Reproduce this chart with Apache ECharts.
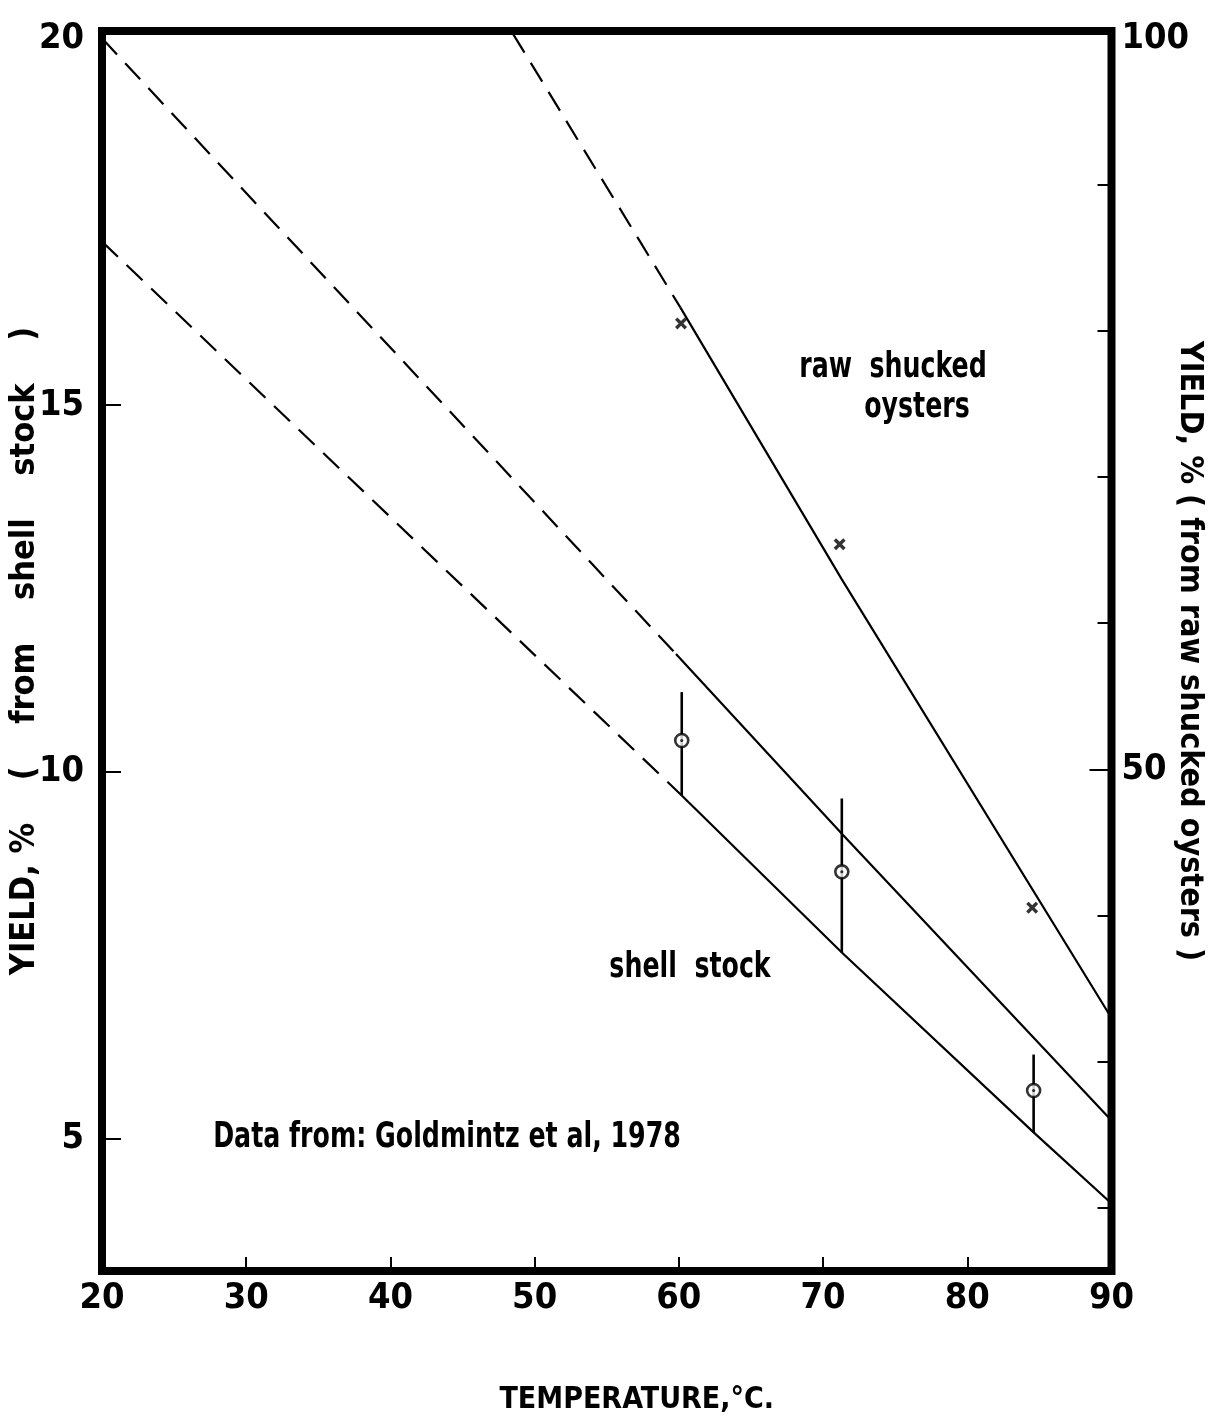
<!DOCTYPE html>
<html>
<head>
<meta charset="utf-8">
<script src="https://cdn.jsdelivr.net/npm/echarts@6/dist/echarts.min.js"></script>
<style>
  html, body { margin: 0; padding: 0; background: #fff; }
  #chart { width: 1213px; height: 1421px; }
</style>
</head>
<body>
<div id="chart"></div>
<script>
// Condensed bold face for every text on the figure
const FONT = '"Liberation Sans Narrow", "DejaVu Sans Condensed", "Arial Narrow", sans-serif';

// Raw shucked oysters (right axis): fitted line, extrapolated part dashed
const rawDashedTemp = [48.5, 60.1];
const rawDashedYield = [100.3, 81.6];
const rawSolidTemp = [60.1, 71.3, 90];
const rawSolidYield = [81.6, 63.0, 33.0];
// Raw shucked oysters: measured points
const rawPointTemp = [60.15, 71.15, 84.5];
const rawPointYield = [80.5, 65.4, 40.55];

// Shell stock (left axis): upper bounding line
const upperDashedTemp = [20, 59.8];
const upperDashedYield = [20.0, 11.61];
const upperSolidTemp = [59.8, 71.35, 90];
const upperSolidYield = [11.61, 9.15, 5.25];

// Shell stock (left axis): lower bounding line
const lowerDashedTemp = [20, 60.2];
const lowerDashedYield = [17.23, 9.68];
const lowerSolidTemp = [60.2, 71.3, 84.6, 90];
const lowerSolidYield = [9.68, 7.54, 5.09, 4.12];

// Shell stock: mean yield with range
const shellTemp = [60.2, 71.3, 84.6];
const shellMean = [10.43, 8.64, 5.66];
const shellLow = [9.68, 7.54, 5.09];
const shellHigh = [11.09, 9.64, 6.15];

// Axis ticks and labels
const xTicks = [20, 30, 40, 50, 60, 70, 80, 90];
const xTickMarks = [30, 40, 50, 60, 70, 80];
const leftLabels = [5, 10, 15, 20];
const leftTicks = [5, 10, 15];
const rightTicks = [20, 30, 40, 60, 70, 80, 90];
const rightLongTicks = [50];
const rightLabels = [50, 100];

const zip = (a, b) => a.map((v, i) => [v, b[i]]);

const BLACK = '#000';
const dashed = { color: BLACK, width: 2.2, type: [22, 12] };
const solid = { color: BLACK, width: 2.2, type: 'solid' };

const labelStyle = {
  color: BLACK, fontFamily: FONT, fontWeight: 'bold', fontSize: 36
};

// free-standing captions, squeezed horizontally to the narrow lettering
const caption = (text, x, y) => ({
  type: 'text', x, y, scaleX: 0.78,
  style: { text, align: 'center', verticalAlign: 'middle', fill: BLACK, font: 'bold 36px ' + FONT }
});

const chart = echarts.init(document.getElementById('chart'), null, { renderer: 'canvas' });

chart.setOption({
  animation: false,
  backgroundColor: '#fff',
  grid: {
    left: 102, right: 101.5, top: 31, bottom: 150,
    outerBoundsMode: 'none', containLabel: false,
    show: true, borderColor: BLACK, borderWidth: 8, backgroundColor: 'transparent'
  },
  xAxis: {
    type: 'value', min: 20, max: 90,
    axisLine: { show: false },
    splitLine: { show: false },
    axisTick: { inside: true, length: 14, customValues: xTickMarks, lineStyle: { color: BLACK, width: 2 } },
    axisLabel: Object.assign({ customValues: xTicks, margin: 10 }, labelStyle),
    name: 'TEMPERATURE,°C.',
    nameLocation: 'middle',
    nameGap: 114,
    nameMoveOverlap: false,
    nameTextStyle: { color: BLACK, fontFamily: FONT, fontWeight: 'bold', fontSize: 30, padding: [0, 0, 0, 60] }
  },
  yAxis: [
    {
      type: 'value', position: 'left', min: 3.2, max: 20.1,
      axisLine: { show: false },
      splitLine: { show: false },
      axisTick: { inside: true, length: 19, customValues: leftTicks, lineStyle: { color: BLACK, width: 2 } },
      axisLabel: Object.assign({ customValues: leftLabels, margin: 18 }, labelStyle),
      name: 'YIELD, %    (    from    shell    stock    )',
      nameLocation: 'middle',
      nameRotate: 90,
      nameGap: 60,
      nameMoveOverlap: false,
      nameTextStyle: { color: BLACK, fontFamily: FONT, fontWeight: 'bold', fontSize: 34 }
    },
    {
      type: 'value', position: 'right', min: 15.7, max: 100.5,
      axisLine: { show: false },
      splitLine: { show: false },
      axisTick: { inside: true, length: 14, customValues: rightTicks, lineStyle: { color: BLACK, width: 2 } },
      axisLabel: Object.assign({ customValues: rightLabels, margin: 10 }, labelStyle),
      name: 'YIELD, % ( from raw shucked oysters )',
      nameLocation: 'middle',
      nameRotate: -90,
      nameGap: 62,
      nameMoveOverlap: false,
      nameTextStyle: { color: BLACK, fontFamily: FONT, fontWeight: 'bold', fontSize: 32 }
    },
    {
      type: 'value', position: 'right', min: 15.7, max: 100.5,
      axisLine: { show: false },
      splitLine: { show: false },
      axisTick: { inside: true, length: 22, customValues: rightLongTicks, lineStyle: { color: BLACK, width: 2 } },
      axisLabel: { show: false }
    }
  ],
  series: [
    { type: 'line', yAxisIndex: 1, data: zip(rawDashedTemp, rawDashedYield), symbol: 'none', lineStyle: dashed, silent: true },
    { type: 'line', yAxisIndex: 1, data: zip(rawSolidTemp, rawSolidYield), symbol: 'none', lineStyle: solid, silent: true },
    {
      type: 'scatter', yAxisIndex: 1, data: zip(rawPointTemp, rawPointYield),
      symbol: 'path://M0,2L2,0L5,3L8,0L10,2L7,5L10,8L8,10L5,7L2,10L0,8L3,5Z',
      symbolSize: 12, itemStyle: { color: BLACK }
    },
    { type: 'line', yAxisIndex: 0, data: zip(upperDashedTemp, upperDashedYield), symbol: 'none', lineStyle: dashed, silent: true },
    { type: 'line', yAxisIndex: 0, data: zip(upperSolidTemp, upperSolidYield), symbol: 'none', lineStyle: solid, silent: true },
    { type: 'line', yAxisIndex: 0, data: zip(lowerDashedTemp, lowerDashedYield), symbol: 'none', lineStyle: dashed, silent: true },
    { type: 'line', yAxisIndex: 0, data: zip(lowerSolidTemp, lowerSolidYield), symbol: 'none', lineStyle: solid, silent: true },
    {
      type: 'custom', yAxisIndex: 0,
      data: shellTemp.map((t, i) => [t, shellLow[i], shellHigh[i]]),
      encode: { x: 0, y: [1, 2] },
      renderItem: (params, api) => {
        const lo = api.coord([api.value(0), api.value(1)]);
        const hi = api.coord([api.value(0), api.value(2)]);
        return {
          type: 'line',
          shape: { x1: lo[0], y1: lo[1], x2: hi[0], y2: hi[1] },
          style: { stroke: BLACK, lineWidth: 2.6 }
        };
      },
      z: 3
    },
    {
      type: 'scatter', yAxisIndex: 0, data: zip(shellTemp, shellMean),
      symbol: 'circle', symbolSize: 13,
      itemStyle: { color: '#fff', borderColor: BLACK, borderWidth: 2.6 }, z: 4
    },
    {
      type: 'scatter', yAxisIndex: 0, data: zip(shellTemp, shellMean),
      symbol: 'circle', symbolSize: 3, itemStyle: { color: BLACK }, z: 5
    }
  ],
  graphic: [
    caption('raw  shucked', 893, 368),
    caption('oysters', 917, 408),
    caption('shell  stock', 690, 968),
    caption('Data from: Goldmintz et al, 1978', 447, 1138)
  ]
});
</script>
</body>
</html>
